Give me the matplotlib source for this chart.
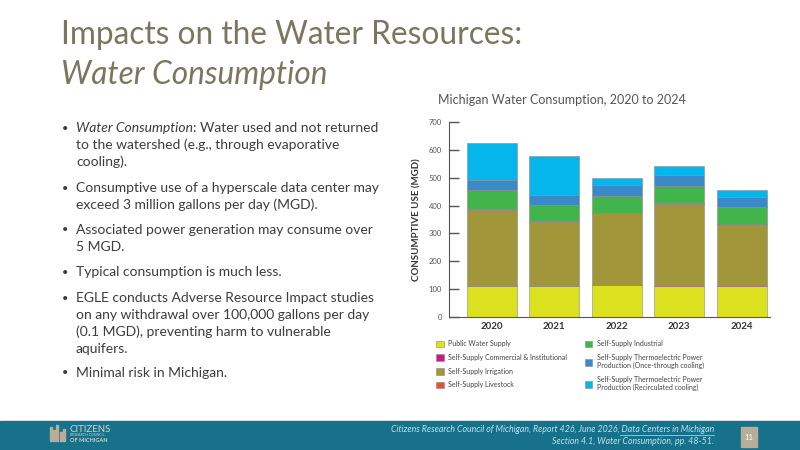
import matplotlib.pyplot as plt
from matplotlib.patches import Rectangle
from matplotlib.lines import Line2D
import numpy as np

# data (MGD)
years = ['2020', '2021', '2022', '2023', '2024']
public_supply = [111, 110, 114, 112, 112]
commercial = [1, 1, 1, 1, 1]
irrigation = [274, 231, 257, 294, 219]
livestock = [1, 1, 1, 1, 1]
industrial = [71, 58, 60, 61, 62]
once_through = [35, 37, 42, 41, 36]
recirculated = [132, 140, 23, 31, 27]

labels = ['Public Water Supply', 'Self-Supply Commercial & Institutional',
          'Self-Supply Irrigation', 'Self-Supply Livestock',
          'Self-Supply Industrial',
          'Self-Supply Thermoelectric Power\nProduction (Once-through cooling)',
          'Self-Supply Thermoelectric Power\nProduction (Recirculated cooling)']
colors = ['#dbe11f', '#c81c80', '#a1963a', '#e8503a', '#41b54b', '#3a89c9', '#05b6ec']
series = [public_supply, commercial, irrigation, livestock, industrial, once_through, recirculated]

# bullet text: list of lines, first line may start with an italic term
bullets = [
    ['Water used and not returned', 'to the watershed (e.g., through evaporative', 'cooling).'],
    ['Consumptive use of a hyperscale data center may', 'exceed 3 million gallons per day (MGD).'],
    ['Associated power generation may consume over', '5 MGD.'],
    ['Typical consumption is much less.'],
    ['EGLE conducts Adverse Resource Impact studies', 'on any withdrawal over 100,000 gallons per day',
     '(0.1 MGD), preventing harm to vulnerable', 'aquifers.'],
    ['Minimal risk in Michigan.'],
]
bullet_y = [128, 188, 230, 272, 298, 373]

plt.rcParams['font.family'] = ['Lato', 'DejaVu Sans']

fig = plt.figure(figsize=(8, 4.5), dpi=100)
W, H = 800, 450

def fy(y):
    return 1 - y / H

# slide title
title_col = '#7b7660'
fig.text(61 / W, fy(44), 'Impacts on the Water Resources:', fontsize=22.8,
         color=title_col, va='baseline', ha='left')
fig.text(61 / W, fy(84), 'Water Consumption', fontsize=22.8, style='italic',
         color=title_col, va='baseline', ha='left')

# bullets
txt_col = '#3c3c3c'
fs = 10
for i, (lines, y) in enumerate(zip(bullets, bullet_y)):
    fig.text(65 / W, fy(y), '\u2022', fontsize=8, color=txt_col, va='center', ha='center')
    for k, line in enumerate(lines):
        yy = fy(y + 17 * k)
        if i == 0 and k == 0:
            t = fig.text(76 / W, yy, 'Water Consumption', fontsize=fs, style='italic',
                         color=txt_col, va='center')
            fig.canvas.draw()
            bb = t.get_window_extent()
            fig.text(bb.x1 / W, yy, ': ' + line, fontsize=fs, color=txt_col, va='center')
        else:
            fig.text(76 / W, yy, line, fontsize=fs, color=txt_col, va='center')

# chart
ax = fig.add_axes([449 / W, fy(316.7), 321 / W, (316.7 - 122.3) / H])
x = np.arange(len(years))
bottom = np.zeros(len(years))
handles = []
for vals, c, lab in zip(series, colors, labels):
    b = ax.bar(x, vals, 0.8, bottom=bottom, color=c, edgecolor='#8a8a8a',
               linewidth=0.4, label=lab)
    bottom += np.array(vals)
    handles.append(b)

ax.set_ylim(0, 700)
ax.set_xlim(-0.68, 4.45)
ax.set_yticks(range(0, 701, 100))
ax.set_xticks(x)
ax.set_xticklabels(years, fontweight='bold', fontsize=7, color='#333333')
ax.tick_params(axis='y', direction='in', length=7, width=1, color='#555555',
               labelsize=5.5, labelcolor='#555555', pad=5)
ax.tick_params(axis='x', length=0, pad=4)
for s in ['top', 'right']:
    ax.spines[s].set_visible(False)
ax.spines['left'].set_color('#555555')
ax.spines['bottom'].set_color('#555555')
ax.set_ylabel('CONSUMPTIVE USE (MGD)', fontweight='bold', fontsize=7,
              color='#333333', labelpad=5)
fig.text(562 / W, fy(100), 'Michigan Water Consumption, 2020 to 2024', fontsize=9,
         color='#555555', ha='center', va='center')

leg = ax.legend(handles=[h[0] for h in handles], labels=labels, ncol=2,
                loc='upper left', bbox_to_anchor=(-0.06, -0.09), frameon=False,
                fontsize=5, handlelength=1.1, handleheight=1.1, labelspacing=0.95,
                columnspacing=2.6, handletextpad=0.6, labelcolor='#444444')

# footer
fig.add_artist(Rectangle((0, 0), 1, 29 / H, transform=fig.transFigure,
                         color='#17718b', zorder=0))
fig.text(714 / W, fy(430), 'Citizens Research Council of Michigan, Report 426, June 2026, Data Centers in Michigan',
         fontsize=6.3, style='italic', color='#bfe3ee', ha='right', va='center')
fig.text(714 / W, fy(442), 'Section 4.1, Water Consumption, pp. 48-51.',
         fontsize=6.3, style='italic', color='#bfe3ee', ha='right', va='center')
fig.add_artist(Line2D([620 / W, 714 / W], [fy(435), fy(435)], transform=fig.transFigure,
                      color='#bfe3ee', lw=0.5))
fig.add_artist(Rectangle((741 / W, fy(447)), 16 / W, 20 / H, transform=fig.transFigure,
                         color='#b8ae97'))
fig.text(749 / W, fy(437), '11', fontsize=5.5, color='white', ha='center', va='center')

# logo
for i, hgt in enumerate([14, 11, 16, 9, 12]):
    fig.add_artist(Rectangle(((50 + i * 3.2) / W, fy(441)), 2 / W, hgt / H,
                             transform=fig.transFigure, color='#b8ae97'))
fig.text(70 / W, fy(429), 'CITIZENS', fontsize=7, color='#d8d2c0', va='center')
fig.text(70 / W, fy(435.5), 'RESEARCH COUNCIL', fontsize=2.5, color='#d8d2c0', va='center')
fig.text(70 / W, fy(440), 'OF MICHIGAN', fontsize=4, fontweight='bold', color='#d8d2c0',
         va='center')

fig.savefig('out.png', dpi=100)
